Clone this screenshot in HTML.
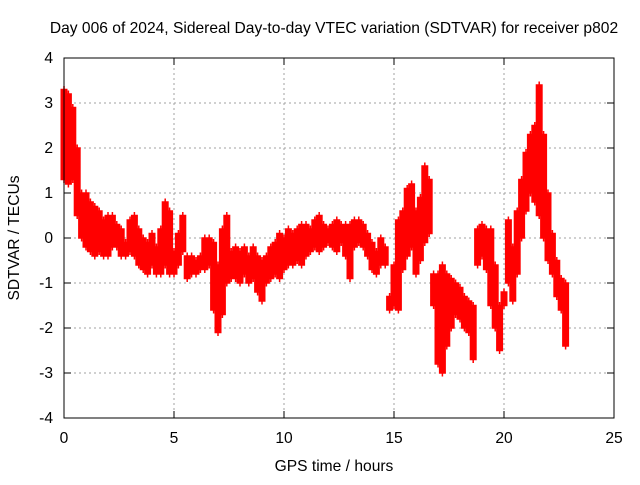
<!DOCTYPE html>
<html><head><meta charset="utf-8"><style>
body{margin:0;background:#fff;}
svg text{font-family:"Liberation Sans",sans-serif;font-size:15.6px;fill:#000;}
</style></head><body>
<svg id="chart" width="640" height="480" xmlns="http://www.w3.org/2000/svg">
<rect width="640" height="480" fill="#fff"/>
<text x="334" y="33" text-anchor="middle">Day 006 of 2024, Sidereal Day-to-day VTEC variation (SDTVAR) for receiver p802</text>
<g id="grid"></g>
<g id="ticks"></g>
<g id="points"></g>
<rect x="64" y="58" width="550" height="360" fill="none" stroke="#000" stroke-width="1"/>
<text x="334" y="471" text-anchor="middle">GPS time / hours</text>
<text transform="translate(19,238) rotate(-90)" text-anchor="middle">SDTVAR / TECUs</text>
</svg>
<script>
const xTicks=[0,5,10,15,20,25];
const yTicks=[-4,-3,-2,-1,0,1,2,3,4];
const times=[0,0.2,0.4,0.6,0.8,1.0,1.2,1.4,1.6,1.8,2.0,2.2,2.4,2.6,2.8,3.0,3.2,3.4,3.6,3.8,4.0,4.2,4.4,4.6,4.8,5.0,5.2,5.4,5.6,5.8,6.0,6.2,6.4,6.6,6.8,7.0,7.2,7.4,7.6,7.8,8.0,8.2,8.4,8.6,8.8,9.0,9.2,9.4,9.6,9.8,10.0,10.2,10.4,10.6,10.8,11.0,11.2,11.4,11.6,11.8,12.0,12.2,12.4,12.6,12.8,13.0,13.2,13.4,13.6,13.8,14.0,14.2,14.4,14.6,14.8,15.0,15.2,15.4,15.6,15.8,16.0,16.2,16.4,16.6,16.8,17.0,17.2,17.4,17.6,17.8,18.0,18.2,18.4,18.6,18.8,19.0,19.2,19.4,19.6,19.8,20.0,20.2,20.4,20.6,20.8,21.0,21.2,21.4,21.6,21.8,22.0,22.2,22.4,22.6,22.8];
const lows=[1.3,1.2,1.3,0.5,0.0,-0.2,-0.3,-0.4,-0.3,-0.4,-0.4,-0.2,-0.2,-0.4,-0.4,-0.3,-0.4,-0.6,-0.7,-0.8,-0.6,-0.8,-0.8,-0.6,-0.8,-0.8,-0.6,-0.3,-0.9,-0.8,-0.8,-0.7,-0.7,-0.6,-1.6,-2.1,-1.7,-1.0,-0.9,-0.9,-1.0,-0.8,-1.0,-0.9,-1.2,-1.4,-1.0,-0.9,-0.8,-0.9,-0.7,-0.6,-0.6,-0.5,-0.6,-0.4,-0.3,-0.2,-0.3,-0.2,-0.1,-0.2,-0.3,-0.1,-0.4,-0.9,-0.2,-0.1,-0.2,-0.4,-0.7,-0.8,-0.6,-0.6,-1.6,-1.5,-1.6,-0.7,-0.4,-0.2,-0.8,-0.5,-0.1,0.1,-1.5,-2.8,-3.0,-2.4,-2.0,-1.7,-1.8,-2.0,-2.1,-2.7,-0.6,-0.4,-0.7,-1.5,-2.0,-2.5,-1.5,-1.0,-1.4,-0.8,0.0,0.6,1.0,0.8,0.5,0.0,-0.5,-0.8,-1.3,-1.6,-2.4];
const highs=[3.3,3.2,2.9,2.0,1.0,1.0,0.8,0.7,0.6,0.4,0.5,0.5,0.3,0.2,-0.1,0.4,0.5,0.2,0.0,-0.1,0.1,-0.2,0.2,0.8,0.6,-0.3,0.1,0.5,-0.4,-0.4,-0.5,-0.4,0.0,0.0,-0.1,-0.6,0.2,0.5,-0.3,-0.2,-0.3,-0.2,-0.4,-0.2,-0.4,-0.5,-0.4,-0.2,-0.1,0.1,0.0,0.2,0.1,0.2,0.3,0.3,0.2,0.4,0.5,0.3,0.2,0.3,0.4,0.3,0.3,0.3,0.4,0.4,0.3,0.1,-0.1,-0.3,0.0,-0.2,-1.3,-0.6,0.4,0.6,1.1,1.2,0.6,0.9,1.6,1.3,-0.8,-0.8,-0.6,-0.8,-0.9,-1.0,-1.1,-1.3,-1.4,-1.5,0.2,0.3,0.2,0.2,-0.6,-1.5,-1.2,0.4,-0.2,0.6,1.3,1.9,2.3,2.5,3.4,2.3,1.0,0.1,-0.5,-0.9,-1.0];
const NS='http://www.w3.org/2000/svg';
const X=t=>64+t/25*550;
const Y=v=>238-v*45;
const grid=document.getElementById('grid'),ticks=document.getElementById('ticks'),pts=document.getElementById('points');
function mk(tag,attrs,parent){const e=document.createElementNS(NS,tag);for(const k in attrs)e.setAttribute(k,attrs[k]);parent.appendChild(e);return e;}
xTicks.forEach(t=>{
  const x=X(t);
  if(t>0&&t<25){const g=mk('line',{x1:x,x2:x,y1:58,y2:418,stroke:'#a0a0a0','stroke-dasharray':'2,3'},grid);
  
  }
  mk('line',{x1:x,x2:x,y1:418,y2:411,stroke:'#000'},ticks);mk('line',{x1:x,x2:x,y1:58,y2:65,stroke:'#000'},ticks);
  const l=mk('text',{x:x,y:443,'text-anchor':'middle'},ticks);l.textContent=t;
  
  
});
yTicks.forEach(v=>{
  const y=Y(v);
  if(v>-4&&v<4){const g=mk('line',{x1:64,x2:614,y1:y,y2:y,stroke:'#a0a0a0','stroke-dasharray':'2,3'},grid);
  
  }
  mk('line',{x1:64,x2:71,y1:y,y2:y,stroke:'#000'},ticks);mk('line',{x1:614,x2:607,y1:y,y2:y,stroke:'#000'},ticks);
  const l=mk('text',{x:53,y:y+5,'text-anchor':'end'},ticks);l.textContent=v;
  
  
});
let d='';
times.forEach((t,i)=>{
  const x=X(t),y1=Y(highs[i]),y2=Y(lows[i]);
  for(let y=y1;y<=y2+0.01;y+=1.5){d+=`M${(x-3.5).toFixed(1)},${y.toFixed(1)}h7M${x.toFixed(1)},${(y-3.5).toFixed(1)}v7`;}
});
const p=mk('path',{d:d,stroke:'#ff0000','stroke-width':1.5,fill:'none'},pts);


</script>
</body></html>
